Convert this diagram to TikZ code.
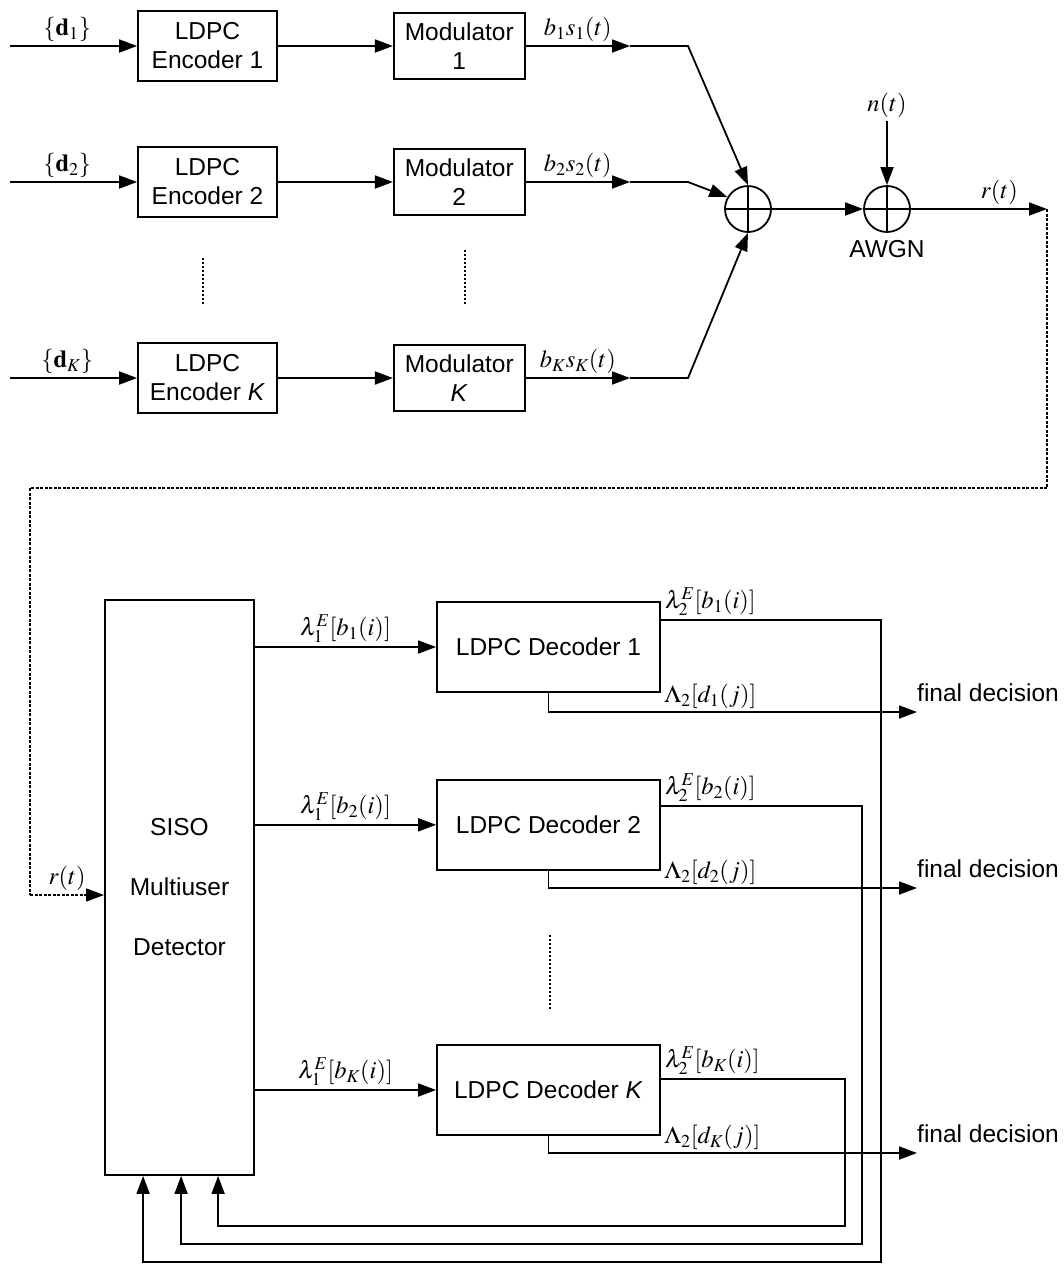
\documentclass[tikz,border=0pt]{standalone}
\usepackage{mathptmx}
\usepackage[no-math]{fontspec}
\setmainfont{Liberation Sans}
\usetikzlibrary{positioning, arrows.meta, calc}

\begin{document}
\begin{tikzpicture}[
    x=1pt, y=-1pt,
    block/.style={draw, line width=1.8pt, align=center, inner sep=2pt},
    encbox/.style={block, minimum width=139pt, minimum height=70pt},
    modbox/.style={block, minimum width=131pt, minimum height=66pt},
    decbox/.style={block, minimum width=223pt, minimum height=90pt},
    adder/.style={draw, circle, line width=1.8pt, minimum size=46pt, inner sep=0pt,
        path picture={\draw[line width=1.8pt]
            (path picture bounding box.north) -- (path picture bounding box.south)
            (path picture bounding box.west) -- (path picture bounding box.east);}},
    arr/.style={-{Triangle[length=18pt,width=13pt]}, line width=1.8pt},
    dotline/.style={line width=1.6pt, dash pattern=on 3pt off 1.5pt},
    vdots/.style={line width=1.3pt, dash pattern=on 2pt off 2pt},
    every node/.style={font=\fontsize{24.5}{29}\selectfont}
]
\useasboundingbox (0,0) rectangle (1064,1267);

% Encoders
\node[encbox] (enc1) at (207.5,46) {LDPC\\Encoder 1};
\node[encbox] (enc2) at (207.5,182) {LDPC\\Encoder 2};
\node[encbox] (encK) at (207.5,378) {LDPC\\Encoder \textit{K}};

% Modulators
\node[modbox, right=115pt of enc1] (mod1) {Modulator\\1};
\node[modbox, right=115pt of enc2] (mod2) {Modulator\\2};
\node[modbox, right=115pt of encK] (modK) {Modulator\\\textit{K}};

% Inputs
\coordinate (in1) at (10,46);
\coordinate (in2) at (10,182);
\coordinate (inK) at (10,378);
\draw[arr] (in1) -- node[above, pos=0.45] (d1) {$\{\mathbf{d}_1\}$} (enc1);
\draw[arr] (in2) -- node[above, pos=0.45] (d2) {$\{\mathbf{d}_2\}$} (enc2);
\draw[arr] (inK) -- node[above, pos=0.45] (dK) {$\{\mathbf{d}_K\}$} (encK);
\draw[arr] (enc1) -- (mod1);
\draw[arr] (enc2) -- (mod2);
\draw[arr] (encK) -- (modK);

% Channel
\node[adder] (sum) at (748,209) {};
\node[adder, label={[label distance=4pt, name=awgnlab]below:AWGN}] (awgn) at (887,209) {};
\node (noise) at (887,105) {$n(t)$};

\coordinate (o1) at (630,46);
\coordinate (o2) at (630,182);
\coordinate (oK) at (630,378);
\coordinate (k1) at (688,46);
\coordinate (k2) at (688,182);
\coordinate (kK) at (688,378);
\draw[arr] (mod1) -- node[above] (s1) {$b_1s_1(t)$} (o1);
\draw[arr] (mod2) -- node[above] (s2) {$b_2s_2(t)$} (o2);
\draw[arr] (modK) -- node[above] (sK) {$b_Ks_K(t)$} (oK);
\draw[arr] (o1) -- (k1) -- (sum.north);
\draw[arr] (o2) -- (k2) -- (sum.150);
\draw[arr] (oK) -- (kK) -- (sum.south);
\draw[arr] (sum) -- (awgn);
\draw[arr] (noise) -- (awgn);

\coordinate (rout) at (1047,209);
\draw[arr] (awgn) -- node[above, pos=0.65] (rt1) {$r(t)$} (rout);

% dots between users
\draw[vdots] (203,258) -- (203,305);
\draw[vdots] (465,250) -- (465,305);

% Receiver
\node[block, minimum width=149pt, minimum height=575pt,
      font=\fontsize{24.5}{60}\selectfont] (siso) at (179.5,887.5) {SISO\\Multiuser\\Detector};

\node[decbox] (dec1) at (548.5,647) {LDPC Decoder 1};
\node[decbox, below=86pt of dec1] (dec2) {LDPC Decoder 2};
\node[decbox] (decK) at (548.5,1090) {LDPC Decoder \textit{K}};

\draw[vdots] (550,935) -- (550,1010);

% r(t) into detector
\coordinate (rturn) at (1047,488);
\coordinate (rleft) at (30,488);
\coordinate (rin) at (30,895);
\draw[dotline] (rout) -- (rturn) -- (rleft) -- (rin);
\draw[arr, dotline] (rin) -- node[above] (rt2) {$r(t)$} (rin -| siso.west);

% Detector to decoders
\draw[arr] (siso.east |- dec1) -- node[above] (l11) {$\lambda_1^E[b_1(i)]$} (dec1);
\draw[arr] (siso.east |- dec2) -- node[above] (l12) {$\lambda_1^E[b_2(i)]$} (dec2);
\draw[arr] (siso.east |- decK) -- node[above] (l1K) {$\lambda_1^E[b_K(i)]$} (decK);

% Feedback
\coordinate (fb1) at (881,1262);
\coordinate (fb2) at (862,1244);
\coordinate (fbK) at (845,1226);
\draw[arr] ($(dec1.north east)+(0,19)$) node[above right] (l21) {$\lambda_2^E[b_1(i)]$}
    -| (fb1) -| ($(siso.south west)+(39,0)$);
\draw[arr] ($(dec2.north east)+(0,27)$) node[above right] (l22) {$\lambda_2^E[b_2(i)]$}
    -| (fb2) -| ($(siso.south west)+(77,0)$);
\draw[arr] ($(decK.north east)+(0,35)$) node[above right] (l2K) {$\lambda_2^E[b_K(i)]$}
    -| (fbK) -| ($(siso.south west)+(114,0)$);

% Decisions
\coordinate (out1) at (917,712);
\coordinate (out2) at (917,888);
\coordinate (outK) at (917,1153);
\draw[arr] (dec1.south) |- (out1) node[anchor=base west, xshift=-4pt, yshift=11pt] (fd1) {final decision};
\draw[arr] (dec2.south) |- (out2) node[anchor=base west, xshift=-4pt, yshift=11pt] (fd2) {final decision};
\draw[arr] (decK.south) |- (outK) node[anchor=base west, xshift=-4pt, yshift=11pt] (fdK) {final decision};
\node[above right] (L1) at (dec1.south east |- out1) {$\Lambda_2[d_1(j)]$};
\node[above right] (L2) at (dec2.south east |- out2) {$\Lambda_2[d_2(j)]$};
\node[above right] (LK) at (decK.south east |- outK) {$\Lambda_2[d_K(j)]$};

\end{tikzpicture}
\end{document}
